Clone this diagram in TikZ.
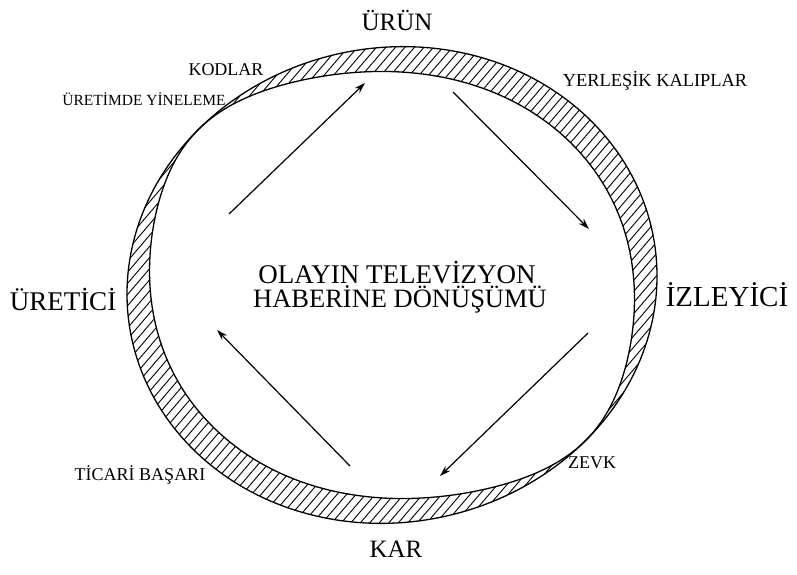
\documentclass[tikz,border=0pt]{standalone}
\usepackage{fontspec}
\setmainfont{Liberation Serif}
\usetikzlibrary{arrows.meta}
\begin{document}
\begin{tikzpicture}[x=1pt,y=-1pt,
  declare function={
    cc(\a)=cos(2*(\a-136));
    aa(\a)=5*cc(\a);
    ss(\a)=sin(\a-138)^2;
    ww(\a)=30*1.35*ss(\a)/(ss(\a)+0.35);
    ox(\a)=392+(265-aa(\a))*cos(\a);
    oy(\a)=285-(238-aa(\a))*sin(\a);
    ix(\a)=392+(265-aa(\a)-ww(\a))*cos(\a);
    iy(\a)=285-(238-aa(\a)-ww(\a))*sin(\a);
  },
  ring/.style={line width=1.3pt, line join=round},
  hatch/.style={line width=0.9pt},
  arr/.style={line width=1.2pt, -{Stealth[length=11pt,width=7pt]}},
  lab/.style={inner sep=0pt, anchor=base},
  big/.style={lab, font=\fontsize{25}{25}\selectfont},
  small/.style={lab, font=\fontsize{18}{18}\selectfont},
]
\useasboundingbox (0,0) rectangle (797,575);
\fill[white] (0,0) rectangle (797,575);

% hatched ring
\begin{scope}
  \clip plot[variable=\t,domain=0:360,samples=241] ({ox(\t)},{oy(\t)}) -- cycle;
  \foreach \k in {-70,...,75} {
    \draw[hatch] ({\k*9.5},600) -- ++(580,-680);
  }
\end{scope}
\fill[white] plot[variable=\t,domain=0:360,samples=241] ({ix(\t)},{iy(\t)}) -- cycle;
\draw[ring] plot[variable=\t,domain=0:360,samples=241] ({ox(\t)},{oy(\t)}) -- cycle;
\draw[ring] plot[variable=\t,domain=0:360,samples=241] ({ix(\t)},{iy(\t)}) -- cycle;

% labels
\node[big] (urun) at (397,31) {ÜRÜN};
\node[big] (kar) at (396,557) {KAR};
\node[big, font=\fontsize{27}{27}\selectfont] (uretici) at (63,310) {ÜRETİCİ};
\node[big, font=\fontsize{29}{29}\selectfont] (izleyici) at (727,306) {İZLEYİCİ};
\node[big, font=\fontsize{27}{27}\selectfont] (mid1) at (397,283) {OLAYIN TELEVİZYON};
\node[big, font=\fontsize{26.5}{26.5}\selectfont] (mid2) at (400,307) {HABERİNE DÖNÜŞÜMÜ};
\node[small] (kodlar) at (226,76) {KODLAR};
\node[small, font=\fontsize{15.5}{15.5}\selectfont] (yineleme) at (144,106) {ÜRETİMDE YİNELEME};
\node[small, font=\fontsize{18.4}{18.4}\selectfont] (kalip) at (655,87) {YERLEŞİK KALIPLAR};
\node[small] (ticari) at (140,480) {TİCARİ BAŞARI};
\node[small] (zevk) at (592,468) {ZEVK};

% arrows
\coordinate (a1s) at (229,214); \coordinate (a1e) at (365,83);
\coordinate (a2s) at (453,92);  \coordinate (a2e) at (589,229);
\coordinate (a3s) at (588,333); \coordinate (a3e) at (440,476);
\coordinate (a4s) at (350,466); \coordinate (a4e) at (217,330);
\draw[arr] (a1s) -- (a1e);
\draw[arr] (a2s) -- (a2e);
\draw[arr] (a3s) -- (a3e);
\draw[arr] (a4s) -- (a4e);
\end{tikzpicture}
\end{document}
